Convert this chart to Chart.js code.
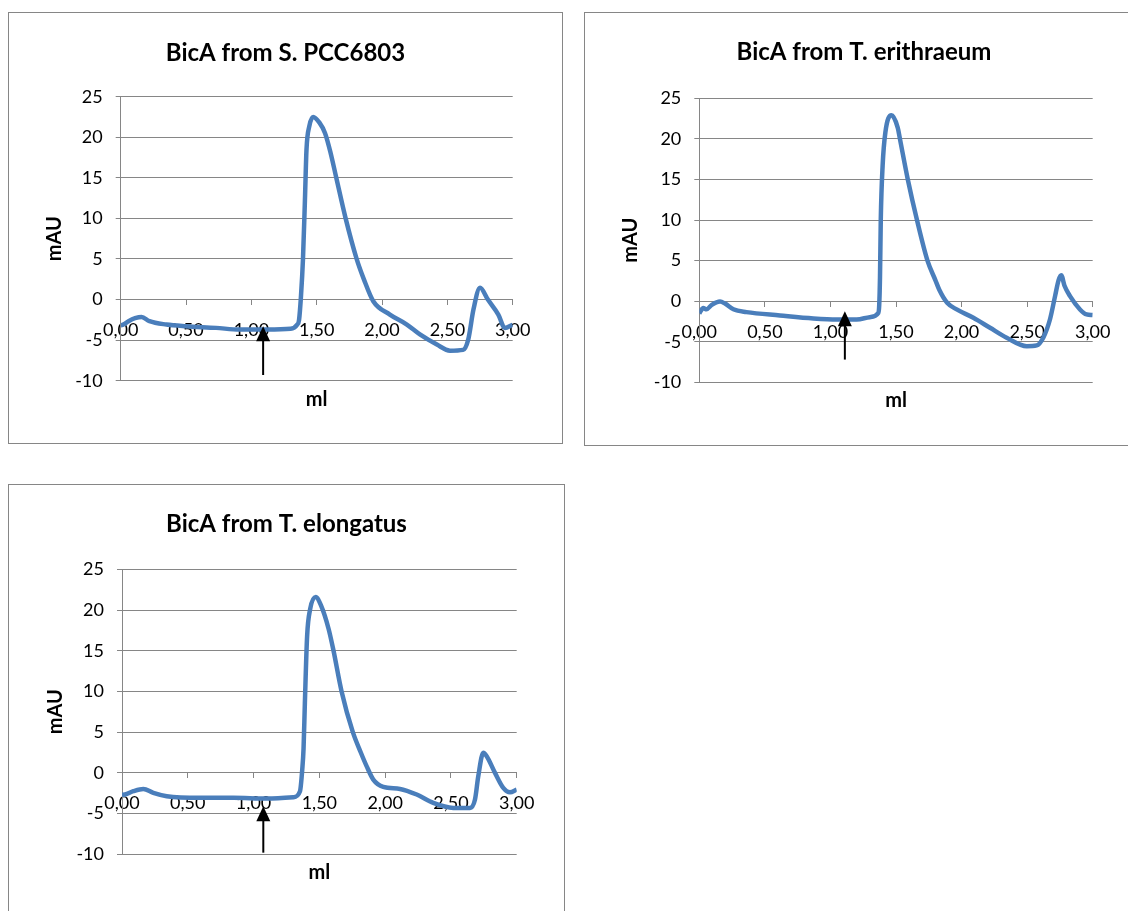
<!DOCTYPE html>
<html>
<head>
<meta charset="utf-8">
<title>BicA elution profiles</title>
<script src="https://cdn.jsdelivr.net/npm/chart.js@4.4.1/dist/chart.umd.min.js"></script>
<style>
  body { margin:0; background:#fff; width:1128px; height:911px; overflow:hidden; position:relative; }
  .box { position:absolute; border:1px solid #868686; box-sizing:border-box; }
  .box canvas { position:absolute; left:-1px; top:-1px; }
</style>
</head>
<body>
<div class="box" id="box1" style="left:8px;top:12px;width:555px;height:432px"><canvas id="c1" width="555" height="432"></canvas></div>
<div class="box" id="box2" style="left:584px;top:12px;width:560px;height:434px"><canvas id="c2" width="560" height="434"></canvas></div>
<div class="box" id="box3" style="left:8px;top:484px;width:557px;height:440px"><canvas id="c3" width="557" height="440"></canvas></div>

<script>
// ---- data -------------------------------------------------------------
const xTicks = [0, 0.5, 1, 1.5, 2, 2.5, 3];
const yTicks = [-10, -5, 0, 5, 10, 15, 20, 25];

const titlePCC = 'BicA from S. PCC6803';
const mlPCC  = [0, 0.02, 0.06, 0.11, 0.16, 0.22, 0.35, 0.50, 0.73, 0.91, 1.12, 1.30, 1.35, 1.365, 1.38,
                1.395, 1.41, 1.422, 1.444, 1.473, 1.521, 1.564, 1.606, 1.649, 1.72, 1.805, 1.862, 1.933,
                2.06, 2.19, 2.29, 2.42, 2.52, 2.62, 2.66, 2.70, 2.75, 2.81, 2.89, 2.94, 3.0];
const mauPCC = [-3.2, -3.08, -2.67, -2.3, -2.14, -2.67, -3.08, -3.29, -3.49, -3.7, -3.7, -3.6, -3.1, -2.5, 0.5,
                5.0, 12.3, 18.5, 21.4, 22.5, 21.8, 20.5, 18.1, 15.07, 10.1, 5.05, 2.46, -0.2,
                -1.85, -3.08, -4.3, -5.55, -6.3, -6.2, -4.9, -1.2, 1.45, 0, -1.85, -3.5, -3.1];
const arrowPCC = [1.09, -9.3, -3.3];   // x, tail, tip

const titleTery = 'BicA from T. erithraeum';
const mlTery  = [0, 0.03, 0.055, 0.095, 0.158, 0.196, 0.26, 0.36, 0.615, 0.87, 1.05, 1.20, 1.30, 1.365, 1.372,
                 1.378, 1.384, 1.398, 1.419, 1.465, 1.513, 1.53, 1.59, 1.66, 1.74, 1.80, 1.83, 1.89,
                 1.963, 2.09, 2.217, 2.344, 2.497, 2.573, 2.623, 2.674, 2.713, 2.74, 2.76, 2.785, 2.827,
                 2.903, 2.954, 3.0];
const mauTery = [-1.5, -0.85, -1.0, -0.45, -0.05, -0.3, -1.0, -1.35, -1.76, -2.13, -2.26, -2.26, -1.97, -1.45, -0.5,
                 3.0, 10.1, 16.7, 20.8, 22.9, 21.4, 20.0, 15.0, 10.0, 5.0, 2.6, 1.4, -0.2,
                 -1.02, -2.05, -3.28, -4.5, -5.55, -5.45, -4.5, -2.26, 0.62, 2.6, 3.2, 1.9, 0.62,
                 -1.02, -1.64, -1.72];
const arrowTery = [1.11, -7.2, -1.25];

const titleTel = 'BicA from T. elongatus';
const mlTel  = [0, 0.023, 0.086, 0.162, 0.238, 0.34, 0.593, 0.846, 1.10, 1.302, 1.353, 1.37, 1.38,
                1.39, 1.407, 1.43, 1.472, 1.514, 1.57, 1.607, 1.669, 1.754, 1.815, 1.86, 1.91,
                1.986, 2.113, 2.24, 2.366, 2.518, 2.645, 2.683, 2.708, 2.746, 2.772, 2.835, 2.898, 2.949, 3.0];
const mauTel = [-2.7, -2.66, -2.25, -1.97, -2.46, -2.87, -3.07, -3.07, -3.16, -2.99, -2.25, 0.4, 3.0,
                8.6, 16.8, 20.1, 21.6, 20.5, 17.7, 15.05, 10.0, 5.03, 2.5, 0.8, -0.82,
                -1.72, -1.97, -2.66, -3.69, -4.3, -4.3, -3.28, -0.41, 2.46, 2.04, 0, -1.84, -2.38, -2.05];
const arrowTel = [1.074, -9.8, -4.1];

// ---- styling ----------------------------------------------------------
const FONT = 'Lato, "Open Sans", sans-serif';
const GRID = '#868686';
const LINE = '#4a7ebb';
const TICK_SIZE = 18;
const AXIS_TITLE_SIZE = 20;

// injection arrow, placed through the chart's own scales
const arrowPlugin = {
  id: 'injectArrow',
  afterDatasetsDraw(chart, args, opts) {
    const a = opts.at;
    if (!a) return;
    const {ctx, scales: {x, y}} = chart;
    const px = x.getPixelForValue(a[0]);
    const tail = y.getPixelForValue(a[1]);
    const tip = y.getPixelForValue(a[2]);
    const headH = 15, headW = 7;
    ctx.save();
    ctx.strokeStyle = '#000';
    ctx.fillStyle = '#000';
    ctx.lineWidth = 2;
    ctx.beginPath();
    ctx.moveTo(px, tail);
    ctx.lineTo(px, tip + headH - 1);
    ctx.stroke();
    ctx.beginPath();
    ctx.moveTo(px, tip);
    ctx.lineTo(px - headW, tip + headH);
    ctx.lineTo(px + headW, tip + headH);
    ctx.closePath();
    ctx.fill();
    ctx.restore();
  }
};

function makeChart(id, title, ml, mau, arrow, g) {
  const pts = ml.map((v, i) => ({x: v, y: mau[i]}));
  const lhTitle = g.titleSize * 1.2;
  const lhAxis = AXIS_TITLE_SIZE * 1.2;
  return new Chart(document.getElementById(id), {
    type: 'scatter',
    data: { datasets: [{
      data: pts, showLine: true, borderColor: LINE, borderWidth: 4.5,
      pointRadius: 0, cubicInterpolationMode: 'monotone', fill: false
    }]},
    plugins: [arrowPlugin],
    options: {
      responsive: false, animation: false, devicePixelRatio: 1,
      layout: { padding: 0 },
      plugins: {
        legend: { display: false },
        tooltip: { enabled: false },
        title: {
          display: true, text: title, color: '#000',
          font: { family: FONT, size: g.titleSize, weight: 'bold' },
          padding: { top: g.titleY - lhTitle / 2, bottom: g.top - g.titleY - lhTitle / 2 }
        },
        injectArrow: { at: arrow }
      },
      scales: {
        x: {
          type: 'linear', min: 0, max: 3, position: { y: 0 },
          afterBuildTicks: s => { s.ticks = xTicks.map(v => ({value: v})); },
          ticks: {
            color: '#000', font: { family: FONT, size: TICK_SIZE }, padding: 15,
            maxRotation: 0, autoSkip: false,
            callback: v => v.toFixed(2).replace('.', ',')
          },
          grid: { drawOnChartArea: false, drawTicks: true, tickLength: 5, color: GRID },
          border: { color: GRID, width: 1 }
        },
        // carries only the "ml" caption under the plot
        xb: {
          type: 'linear', min: 0, max: 3, position: 'bottom',
          ticks: { display: false }, grid: { display: false, drawTicks: false }, border: { display: false },
          afterFit: s => { s.height = g.bottom; },
          title: {
            display: true, text: 'ml', color: '#000',
            font: { family: FONT, size: AXIS_TITLE_SIZE, weight: 'bold' },
            padding: { top: g.mlGap - lhAxis / 2, bottom: g.bottom - g.mlGap - lhAxis / 2 }
          }
        },
        y: {
          min: -10, max: 25,
          afterBuildTicks: s => { s.ticks = yTicks.map(v => ({value: v})); },
          afterFit: s => { s.width = g.left; },
          ticks: { color: '#000', font: { family: FONT, size: TICK_SIZE }, padding: 13 },
          grid: { color: GRID, tickLength: 5 },
          border: { color: GRID, width: 1 },
          title: {
            display: true, text: 'mAU', color: '#000',
            font: { family: FONT, size: AXIS_TITLE_SIZE, weight: 'bold' },
            padding: { top: g.mauX - lhAxis / 2, bottom: 0 }
          }
        },
        // empty right margin so the title stays centred on the whole box
        yr: {
          position: 'right', min: -10, max: 25,
          ticks: { display: false }, grid: { display: false, drawTicks: false }, border: { display: false },
          afterFit: s => { s.width = g.right; }
        }
      }
    }
  });
}

makeChart('c1', titlePCC, mlPCC, mauPCC, arrowPCC,
  { left: 112.7, right: 50.3, top: 84.7, bottom: 63.3, titleY: 41, titleSize: 24, mlGap: 19, mauX: 47 });
makeChart('c2', titleTery, mlTery, mauTery, arrowTery,
  { left: 115.3, right: 51.3, top: 86.3, bottom: 63.7, titleY: 40, titleSize: 24, mlGap: 18, mauX: 47 });
makeChart('c3', titleTel, mlTel, mauTel, arrowTel,
  { left: 114, right: 48.3, top: 85.3, bottom: 69.7, titleY: 40, titleSize: 24, mlGap: 18, mauX: 47.5 });
</script>
</body>
</html>
